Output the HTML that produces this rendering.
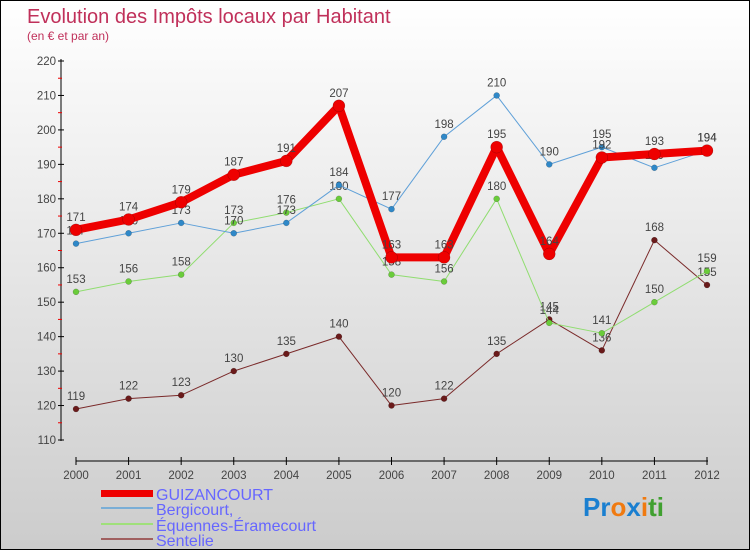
<!DOCTYPE html>
<html><head><meta charset="utf-8"><style>
body{margin:0}
#c{width:748px;height:548px;border:1px solid #000;background:linear-gradient(#fff,#ccc);position:relative;font-family:"Liberation Sans",sans-serif;overflow:hidden}
</style></head><body>
<div id="c">
<svg id="s" width="748" height="548" style="position:absolute;left:0;top:0">
<text x="26" y="22" font-size="20" fill="#c0305a">Evolution des Impôts locaux par Habitant</text>
<text x="26" y="39" font-size="12" fill="#c0305a">(en € et par an)</text>
<g id="ax"></g><g id="ser"></g>
<g font-size="16" fill="#6666ff">
<rect x="100" y="489" width="52" height="7" fill="#e00"/>
<text x="155" y="499">GUIZANCOURT</text>
<rect x="100" y="506" width="52" height="2" fill="#7aaed6"/>
<text x="155" y="514">Bergicourt,</text>
<rect x="100" y="522" width="52" height="2" fill="#9fe07a"/>
<text x="155" y="530">Équennes-Éramecourt</text>
<rect x="100" y="537" width="52" height="2" fill="#a06060"/>
<text x="155" y="545">Sentelie</text>
</g>
<text x="582" y="515" font-size="26" font-weight="bold"><tspan fill="#1a7fd0">Pr</tspan><tspan fill="#f07a10">o</tspan><tspan fill="#1a7fd0">x</tspan><tspan fill="#f07a10">i</tspan><tspan fill="#40a030">ti</tspan></text>
</svg></div>
<script>
const years=[2000,2001,2002,2003,2004,2005,2006,2007,2008,2009,2010,2011,2012];
const guiz=[171,174,179,187,191,207,163,163,195,164,192,193,194];
const berg=[167,170,173,170,173,184,177,198,210,190,195,189,194];
const equ=[153,156,158,173,176,180,158,156,180,144,141,150,159];
const sent=[119,122,123,130,135,140,120,122,135,145,136,168,155];
const yTicks=[110,120,130,140,150,160,170,180,190,200,210,220];
const NS="http://www.w3.org/2000/svg";
const X=i=>75+i*(631/12), Y=v=>60+(220-v)*(379/110);
function mk(t,a,p){const e=document.createElementNS(NS,t);for(const k in a)e.setAttribute(k,a[k]);p.appendChild(e);return e;}
const ax=document.getElementById('ax');
let l=mk('line',{x1:60,y1:58,x2:60,y2:440,stroke:'#000'},ax);


yTicks.forEach(v=>{mk('line',{x1:57,x2:63,y1:Y(v),y2:Y(v),stroke:'#000'},ax);
 if(v<220)mk('line',{x1:57,x2:61,y1:Y(v+5),y2:Y(v+5),stroke:'#e00'},ax);
 const t=mk('text',{x:55,y:Y(v)+4,'font-size':11.5,fill:'#444','text-anchor':'end'},ax);t.textContent=v;
 
 });
l=mk('line',{x1:75,y1:460,x2:707,y2:460,stroke:'#000'},ax);


years.forEach((y,i)=>{mk('line',{x1:X(i),x2:X(i),y1:456,y2:464,stroke:'#000'},ax);
 const t=mk('text',{x:X(i),y:478,'font-size':11.5,fill:'#444','text-anchor':'middle'},ax);t.textContent=y;
 
 });
const ser=document.getElementById('ser');
function draw(d,name,col,dot,w,r){
 const g=mk('g',{},ser);
 
 
 mk('polyline',{points:d.map((v,i)=>X(i)+','+Y(v)).join(' '),fill:'none',stroke:col,'stroke-width':w,'stroke-linejoin':'round'},g);
 d.forEach((v,i)=>{const c=mk('circle',{cx:X(i),cy:Y(v),r:r,fill:dot,stroke:'rgba(0,0,0,0.3)','stroke-width':0.5},g);
  
  
  const t=mk('text',{x:X(i),y:Y(v)-9,'font-size':11.5,fill:'#444','text-anchor':'middle'},g);t.textContent=v;});
}
draw(sent,'sentelie','#7a2a2a','#6a1a1a',1,3);
draw(equ,'equennes','#90dd70','#6acc3a',1,3);
draw(berg,'bergicourt','#5fa0d8','#2f88c8',1,3);
draw(guiz,'guizancourt','#ee0000','#ee0000',8,6);
</script>
</body></html>
